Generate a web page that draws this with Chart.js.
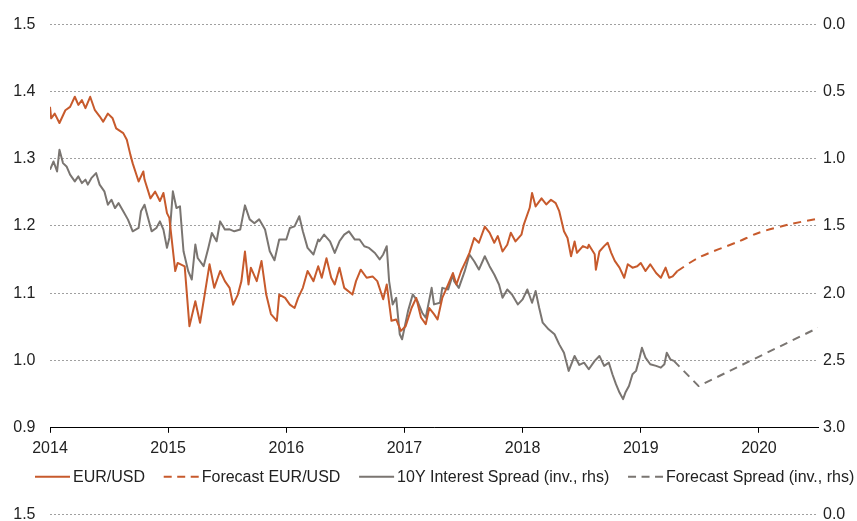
<!DOCTYPE html>
<html>
<head>
<meta charset="utf-8">
<script src="https://cdn.jsdelivr.net/npm/chart.js@4.4.1/dist/chart.umd.min.js"></script>
<style>
  html, body { margin: 0; padding: 0; background: #fff; }
  #wrap { width: 857px; height: 521px; position: relative; }
</style>
</head>
<body>
<div id="wrap"><canvas id="fxChart"></canvas></div>
<script>
// EUR/USD (lhs) vs 10Y interest spread (inverted, rhs), dates as decimal years
const eurDates = [
  2014.00, 2014.01, 2014.04, 2014.08, 2014.13, 2014.17, 2014.21, 2014.24, 2014.27, 2014.30,
  2014.34, 2014.38, 2014.42, 2014.45, 2014.49, 2014.53, 2014.56, 2014.62, 2014.65, 2014.68,
  2014.70, 2014.75, 2014.79, 2014.80, 2014.85, 2014.89, 2014.93, 2014.96, 2014.99, 2015.01,
  2015.06, 2015.08, 2015.14, 2015.18, 2015.23, 2015.27, 2015.31, 2015.35, 2015.39, 2015.44,
  2015.48, 2015.52, 2015.55, 2015.59, 2015.62, 2015.65, 2015.68, 2015.70, 2015.75, 2015.79,
  2015.83, 2015.87, 2015.92, 2015.94, 2015.99, 2016.03, 2016.07, 2016.10, 2016.14, 2016.18,
  2016.23, 2016.27, 2016.30, 2016.34, 2016.38, 2016.41, 2016.45, 2016.49, 2016.56, 2016.59,
  2016.63, 2016.68, 2016.73, 2016.77, 2016.82, 2016.85, 2016.89, 2016.93, 2016.97, 2017.01,
  2017.06, 2017.10, 2017.14, 2017.18, 2017.21, 2017.25, 2017.28, 2017.32, 2017.37, 2017.41,
  2017.44, 2017.48, 2017.52, 2017.55, 2017.59, 2017.63, 2017.68, 2017.72, 2017.76, 2017.79,
  2017.83, 2017.87, 2017.90, 2017.94, 2017.99, 2018.01, 2018.06, 2018.08, 2018.11, 2018.16,
  2018.20, 2018.24, 2018.28, 2018.31, 2018.35, 2018.38, 2018.41, 2018.44, 2018.46, 2018.51,
  2018.55, 2018.56, 2018.61, 2018.62, 2018.65, 2018.69, 2018.72, 2018.75, 2018.78, 2018.82,
  2018.86, 2018.89, 2018.93, 2018.97, 2019.00, 2019.04, 2019.08, 2019.13, 2019.17, 2019.21,
  2019.24, 2019.27, 2019.31
];
const eurValues = [
  1.377, 1.360, 1.367, 1.353, 1.372, 1.377, 1.392, 1.380, 1.387, 1.375,
  1.392, 1.372, 1.363, 1.355, 1.367, 1.360, 1.345, 1.338, 1.328, 1.306,
  1.293, 1.266, 1.281, 1.269, 1.241, 1.251, 1.237, 1.249, 1.219, 1.212,
  1.133, 1.145, 1.140, 1.051, 1.088, 1.056, 1.099, 1.143, 1.108, 1.133,
  1.118, 1.108, 1.083, 1.098, 1.118, 1.162, 1.113, 1.138, 1.118, 1.148,
  1.098, 1.069, 1.059, 1.098, 1.093, 1.083, 1.078, 1.093, 1.108, 1.133,
  1.118, 1.140, 1.123, 1.152, 1.123, 1.113, 1.138, 1.108, 1.098, 1.118,
  1.135, 1.123, 1.125, 1.118, 1.091, 1.113, 1.059, 1.061, 1.044, 1.051,
  1.078, 1.093, 1.064, 1.054, 1.078, 1.069, 1.061, 1.093, 1.113, 1.130,
  1.113, 1.133, 1.148, 1.160, 1.182, 1.175, 1.199, 1.190, 1.175, 1.185,
  1.162, 1.172, 1.190, 1.177, 1.187, 1.202, 1.227, 1.249, 1.229, 1.241,
  1.232, 1.239, 1.234, 1.222, 1.192, 1.182, 1.155, 1.177, 1.160, 1.170,
  1.167, 1.172, 1.158, 1.135, 1.162, 1.170, 1.175, 1.160, 1.148, 1.138,
  1.123, 1.143, 1.138, 1.140, 1.145, 1.133, 1.143, 1.130, 1.123, 1.138,
  1.123, 1.125, 1.133
];

const fcEurDates = [2019.31, 2019.49, 2019.83, 2020.00, 2020.25, 2020.50];
const fcEurValues = [1.133, 1.153, 1.177, 1.190, 1.202, 1.211];

const spreadDates = [
  2014.00, 2014.03, 2014.06, 2014.08, 2014.11, 2014.14, 2014.17, 2014.21, 2014.24, 2014.27,
  2014.30, 2014.32, 2014.35, 2014.39, 2014.42, 2014.46, 2014.49, 2014.52, 2014.55, 2014.58,
  2014.62, 2014.66, 2014.70, 2014.75, 2014.77, 2014.80, 2014.83, 2014.86, 2014.90, 2014.93,
  2014.96, 2014.99, 2015.01, 2015.04, 2015.07, 2015.10, 2015.13, 2015.17, 2015.20, 2015.23,
  2015.25, 2015.30, 2015.34, 2015.37, 2015.41, 2015.44, 2015.48, 2015.52, 2015.56, 2015.61,
  2015.65, 2015.69, 2015.73, 2015.77, 2015.82, 2015.86, 2015.90, 2015.94, 2016.00, 2016.03,
  2016.07, 2016.11, 2016.14, 2016.18, 2016.23, 2016.27, 2016.28, 2016.32, 2016.37, 2016.41,
  2016.45, 2016.49, 2016.53, 2016.58, 2016.62, 2016.66, 2016.70, 2016.75, 2016.79, 2016.82,
  2016.85, 2016.87, 2016.90, 2016.93, 2016.96, 2016.98, 2017.03, 2017.07, 2017.11, 2017.15,
  2017.18, 2017.23, 2017.25, 2017.30, 2017.32, 2017.37, 2017.41, 2017.42, 2017.46, 2017.51,
  2017.55, 2017.59, 2017.63, 2017.68, 2017.72, 2017.76, 2017.80, 2017.83, 2017.87, 2017.91,
  2017.96, 2018.00, 2018.04, 2018.08, 2018.11, 2018.14, 2018.17, 2018.22, 2018.27, 2018.31,
  2018.35, 2018.39, 2018.44, 2018.48, 2018.52, 2018.56, 2018.61, 2018.65, 2018.69, 2018.73,
  2018.76, 2018.79, 2018.82, 2018.85, 2018.87, 2018.90, 2018.93, 2018.96, 2018.99, 2019.01,
  2019.04, 2019.08, 2019.13, 2019.17, 2019.20, 2019.22, 2019.25, 2019.28
];
const spreadValues = [
  1.082, 1.021, 1.095, 0.934, 1.033, 1.058, 1.119, 1.169, 1.132, 1.182,
  1.156, 1.193, 1.145, 1.107, 1.193, 1.243, 1.342, 1.305, 1.367, 1.330,
  1.391, 1.453, 1.540, 1.515, 1.391, 1.342, 1.441, 1.540, 1.515, 1.466,
  1.527, 1.663, 1.589, 1.243, 1.367, 1.354, 1.688, 1.836, 1.898, 1.638,
  1.738, 1.799, 1.663, 1.552, 1.614, 1.466, 1.527, 1.525, 1.540, 1.527,
  1.347, 1.451, 1.480, 1.451, 1.527, 1.688, 1.755, 1.601, 1.601, 1.515,
  1.503, 1.428, 1.540, 1.663, 1.712, 1.601, 1.614, 1.564, 1.614, 1.701,
  1.614, 1.564, 1.540, 1.601, 1.601, 1.651, 1.663, 1.701, 1.749, 1.712,
  1.651, 1.910, 2.083, 2.034, 2.305, 2.342, 2.133, 2.009, 2.059, 2.145,
  2.182, 1.960, 2.083, 2.071, 1.960, 1.972, 1.861, 1.910, 1.960, 1.836,
  1.712, 1.762, 1.824, 1.725, 1.799, 1.861, 1.935, 2.034, 1.972, 2.009,
  2.083, 2.046, 1.972, 2.071, 1.984, 2.108, 2.219, 2.268, 2.305, 2.380,
  2.442, 2.577, 2.466, 2.533, 2.516, 2.565, 2.503, 2.466, 2.540, 2.516,
  2.602, 2.676, 2.738, 2.787, 2.738, 2.689, 2.602, 2.577, 2.479, 2.405,
  2.479, 2.528, 2.540, 2.553, 2.528, 2.442, 2.491, 2.503
];

const fcSpreadDates = [2019.28, 2019.49, 2020.50];
const fcSpreadValues = [2.503, 2.690, 2.257];

const seriesNames = ['EUR/USD', 'Forecast EUR/USD', '10Y Interest Spread (inv., rhs)', 'Forecast Spread (inv., rhs)'];
const leftTicks = [0.9, 1.0, 1.1, 1.2, 1.3, 1.4, 1.5];

const ORANGE = '#c75a2c';
const GREY = '#7a7571';
const FONT = '16px "Liberation Sans", Arial, sans-serif';

Chart.defaults.font.family = '"Liberation Sans", Arial, sans-serif';
Chart.defaults.font.size = 16;
Chart.defaults.color = '#222';

function toPoints(dates, values) {
  return dates.map((d, i) => ({ x: d, y: values[i] }));
}

// legend drawn by hand: short line sample, tight gap, then text
const lineLegend = {
  id: 'lineLegend',
  afterDraw(chart) {
    const ctx = chart.ctx;
    const area = chart.chartArea;
    const y = area.bottom + 49;
    ctx.save();
    ctx.font = FONT;
    ctx.textBaseline = 'middle';
    ctx.textAlign = 'left';
    let x = area.left - 15;
    chart.data.datasets.forEach((ds) => {
      ctx.strokeStyle = ds.borderColor;
      ctx.lineWidth = ds.borderWidth;
      ctx.setLineDash(ds.borderDash ? [8, 5.5] : []);
      ctx.beginPath();
      ctx.moveTo(x, y);
      ctx.lineTo(x + 35, y);
      ctx.stroke();
      ctx.setLineDash([]);
      ctx.fillStyle = '#222';
      ctx.fillText(ds.label, x + 38, y + 1);
      x += 38 + ctx.measureText(ds.label).width + 18.7;
    });
    ctx.restore();
  }
};

// the top edge of the next panel peeks in at the bottom of the picture
const nextPanelEdge = {
  id: 'nextPanelEdge',
  afterDraw(chart) {
    const ctx = chart.ctx;
    const area = chart.chartArea;
    const y = chart.height - 7;
    ctx.save();
    ctx.strokeStyle = '#a0a0a0';
    ctx.lineWidth = 1;
    ctx.setLineDash([2, 2]);
    ctx.beginPath();
    ctx.moveTo(area.left, y + 0.5);
    ctx.lineTo(area.right, y + 0.5);
    ctx.stroke();
    ctx.setLineDash([]);
    ctx.fillStyle = '#222';
    ctx.font = FONT;
    ctx.textBaseline = 'middle';
    ctx.textAlign = 'right';
    ctx.fillText(leftTicks[leftTicks.length - 1].toFixed(1), area.left - 14.5, y + 1);
    ctx.textAlign = 'left';
    ctx.fillText((0).toFixed(1), area.right + 5, y + 1);
    ctx.restore();
  }
};

const ctx = document.getElementById('fxChart').getContext('2d');
new Chart(ctx, {
  type: 'line',
  data: {
    datasets: [
      {
        label: seriesNames[0],
        data: toPoints(eurDates, eurValues),
        yAxisID: 'y',
        borderColor: ORANGE,
        borderWidth: 2
      },
      {
        label: seriesNames[1],
        data: toPoints(fcEurDates, fcEurValues),
        yAxisID: 'y',
        borderColor: ORANGE,
        borderWidth: 2,
        borderDash: [8, 6],
        tension: 0.3
      },
      {
        label: seriesNames[2],
        data: toPoints(spreadDates, spreadValues),
        yAxisID: 'y2',
        borderColor: GREY,
        borderWidth: 2
      },
      {
        label: seriesNames[3],
        data: toPoints(fcSpreadDates, fcSpreadValues),
        yAxisID: 'y2',
        borderColor: GREY,
        borderWidth: 2,
        borderDash: [8, 6]
      }
    ]
  },
  options: {
    responsive: true,
    maintainAspectRatio: false,
    animation: false,
    elements: { point: { radius: 0 }, line: { borderJoinStyle: 'round' } },
    layout: { padding: { left: 13, right: 0, top: 20, bottom: 56 } },
    plugins: {
      tooltip: { enabled: false },
      legend: { display: false }
    },
    scales: {
      x: {
        type: 'linear',
        min: 2014,
        max: 2020.5,
        ticks: {
          stepSize: 1,
          includeBounds: false,
          padding: 6.5,
          maxRotation: 0,
          callback: (v) => String(v)
        },
        grid: { drawOnChartArea: false, drawTicks: true, tickLength: 5, color: '#000' },
        border: { display: true, color: '#000', width: 1 }
      },
      y: {
        position: 'left',
        min: 0.9,
        max: 1.5,
        ticks: { stepSize: 0.1, padding: 14.5, callback: (v) => v.toFixed(1) },
        grid: { color: '#a0a0a0', drawTicks: false },
        border: { display: false, dash: [2, 2] },
        afterFit: (scale) => { scale.width = 37; }
      },
      y2: {
        position: 'right',
        min: 0,
        max: 3,
        reverse: true,
        ticks: { stepSize: 0.5, padding: 5, callback: (v) => v.toFixed(1) },
        grid: { drawOnChartArea: false, drawTicks: false },
        border: { display: false },
        afterFit: (scale) => { scale.width = 39; }
      }
    }
  },
  plugins: [lineLegend, nextPanelEdge]
});
</script>
</body>
</html>
